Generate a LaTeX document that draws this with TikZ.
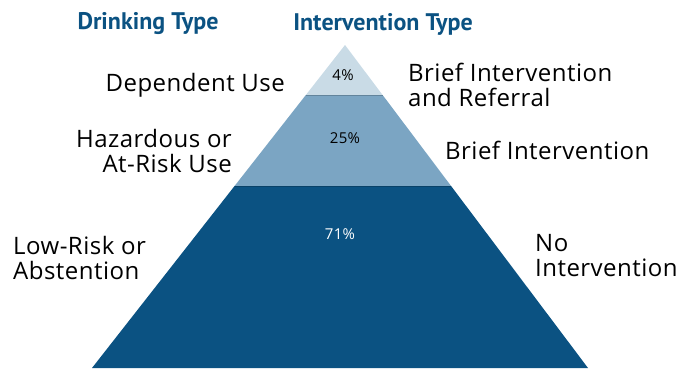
\documentclass[tikz,border=0pt]{standalone}
\usepackage{fontspec}
\setmainfont[LetterSpace=2]{Open Sans}
\newfontfamily\headfont{PT Sans}
\usetikzlibrary{calc}
\definecolor{lowband}{HTML}{0B5282}
\definecolor{midband}{HTML}{7BA5C3}
\definecolor{topband}{HTML}{C9DBE6}
\definecolor{title}{HTML}{0B5282}
\tikzset{
    heading/.style={font=\headfont\fontsize{24}{26}\selectfont\bfseries,text=title},
    label/.style={font=\fontsize{24}{25}\selectfont,text=black,inner sep=0pt},
    share/.style={font=\fontsize{15}{17}\selectfont,inner sep=0pt}
}
\begin{document}
\begin{tikzpicture}[x=1pt,y=-1pt]
    \useasboundingbox (0,0) rectangle (685,368);

    % pyramid corners
    \coordinate (apex) at (345,45);
    \coordinate (bl) at (92,368);
    \coordinate (br) at (588,368);
    \coordinate (l1) at ($(apex)!0.155!(bl)$);
    \coordinate (r1) at ($(apex)!0.155!(br)$);
    \coordinate (l2) at ($(apex)!0.4365!(bl)$);
    \coordinate (r2) at ($(apex)!0.4365!(br)$);

    \fill[lowband] (l2) -- (r2) -- (br) -- (bl) -- cycle;
    \fill[midband] (l1) -- (r1) -- (r2) -- (l2) -- cycle;
    \fill[topband] (apex) -- (r1) -- (l1) -- cycle;
    \draw[midband!80!black,line width=0.6pt] (l1) -- (r1);
    \draw[lowband!80!black,line width=0.6pt] (l2) -- (r2);

    \node[heading] (drink) at (148,24) {Drinking Type};
    \node[heading] (interv) at (383,24) {Intervention Type};

    \node[share] (p4) at (343,75) {4\%};
    \node[share] (p25) at (345,138) {25\%};
    \node[share,text=white] (p71) at (340,234) {71\%};

    \begin{scope}[every node/.style={label,align=right,anchor=east}]
        \node (dep) at (285,85) {Dependent Use};
        \node (haz) at (232,150.5) {Hazardous or\\At-Risk Use};
    \end{scope}
    \node[label,align=left,anchor=west] (low) at (13,257.5) {Low-Risk or\\Abstention};

    \begin{scope}[every node/.style={label,align=left,anchor=west}]
        \node (bir) at (408,84.5) {Brief Intervention\\and Referral};
        \node (bi) at (445,150) {Brief Intervention};
        \node (none) at (535,255.5) {No\\Intervention};
    \end{scope}
\end{tikzpicture}
\end{document}
